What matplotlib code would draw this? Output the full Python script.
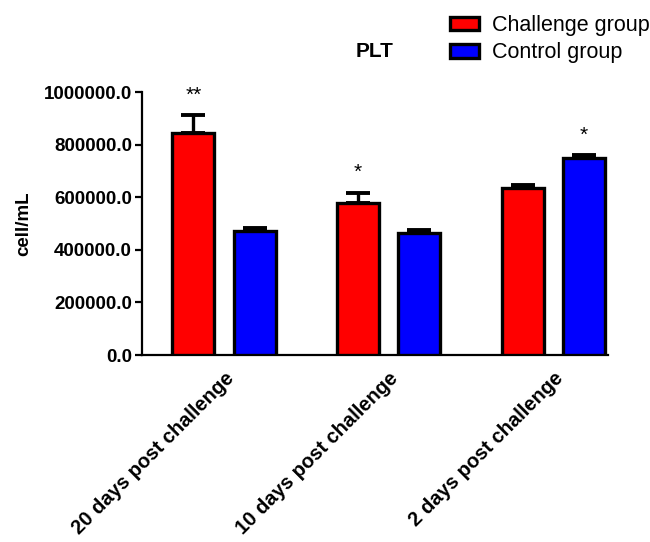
import matplotlib
matplotlib.use("Agg")
import matplotlib.pyplot as plt
import numpy as np

plt.rcParams['font.family'] = ['Liberation Sans', 'DejaVu Sans']

groups = ['20 days post challenge', '10 days post challenge', '2 days post challenge']
challenge = [845000, 580000, 635000]
challenge_err = [68000, 38000, 12000]
control = [472000, 463000, 748000]
control_err = [10000, 11000, 11000]
stars = ['**', '*', '*']
star_on = ['challenge', 'challenge', 'control']

fig = plt.figure(figsize=(6.5, 5.42), dpi=100)
ax = fig.add_axes([0.218, 0.345, 0.717, 0.485])

x = np.arange(len(groups))
w = 0.256
off = 0.186

ax.bar(x - off, challenge, w, color='#ff0000', edgecolor='black', linewidth=2.4, zorder=3,
       label='Challenge group')
ax.bar(x + off, control, w, color='#0000ff', edgecolor='black', linewidth=2.4, zorder=3,
       label='Control group')
ax.errorbar(x - off, challenge, yerr=[np.zeros(3), challenge_err], fmt='none', ecolor='black',
            elinewidth=2.4, capsize=8.5, capthick=2.8, zorder=2)
ax.errorbar(x + off, control, yerr=[np.zeros(3), control_err], fmt='none', ecolor='black',
            elinewidth=2.4, capsize=8.5, capthick=2.8, zorder=2)

for i in range(len(groups)):
    if star_on[i] == 'challenge':
        xs, top = x[i] - off, challenge[i] + challenge_err[i]
    else:
        xs, top = x[i] + off, control[i] + control_err[i]
    ax.text(xs, top + 40000, stars[i], ha='center', va='bottom', fontsize=15)

ax.set_xlim(-0.5, 2.33)
ax.set_ylim(0, 1000000)
ax.set_yticks(np.arange(0, 1000001, 200000))
ax.set_yticklabels(['%.1f' % v for v in np.arange(0, 1000001, 200000)],
                   fontsize=13.5, fontweight='bold')
ax.set_xticks(x)
ax.set_xticklabels(groups, rotation=45, ha='right', rotation_mode='anchor',
                   fontsize=14.5, fontweight='bold')
ax.tick_params(axis='x', length=0, pad=10)
ax.tick_params(axis='y', length=5, width=1.6, pad=2)
ax.spines['top'].set_visible(False)
ax.spines['right'].set_visible(False)
ax.spines['left'].set_linewidth(1.6)
ax.spines['bottom'].set_linewidth(1.6)
ax.set_ylabel('cell/mL', fontsize=13.5, fontweight='bold', labelpad=8)
ax.set_title('PLT', fontsize=15, fontweight='bold', pad=25)

leg = fig.legend(loc='upper left', bbox_to_anchor=(0.662, 1.008), frameon=False, fontsize=15.5,
                 handlelength=1.35, handleheight=0.6, handletextpad=0.6, labelspacing=0.3)

fig.savefig('out.png', dpi=100)
